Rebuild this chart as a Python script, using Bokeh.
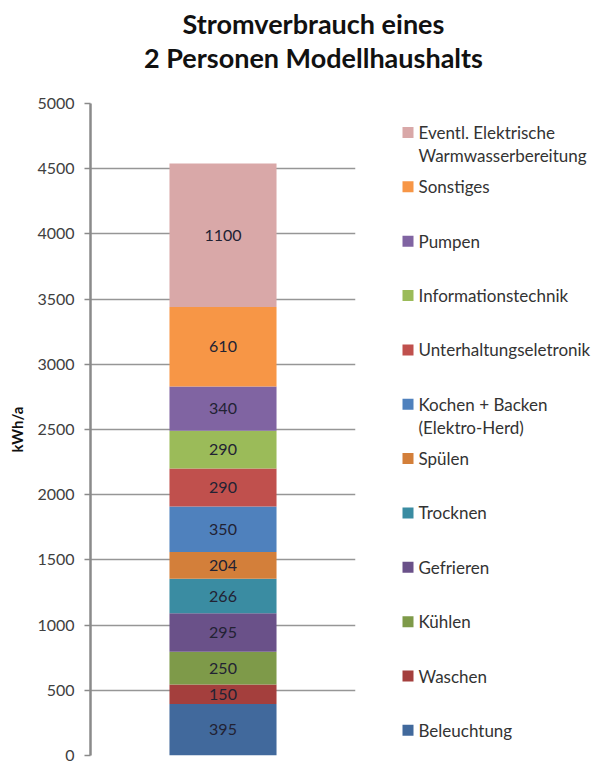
import numpy as np
from bokeh.plotting import figure
from bokeh.layouts import column, row
from bokeh.models import ColumnDataSource, Range1d, FixedTicker
from bokeh.core.properties import value
from bokeh.embed import file_html
from bokeh.resources import INLINE

# ---------------- data ----------------
title_lines = ["Stromverbrauch eines", "2 Personen Modellhaushalts"]
y_label = "kWh/a"
categories = [
    "Beleuchtung",
    "Waschen",
    "Kühlen",
    "Gefrieren",
    "Trocknen",
    "Spülen",
    "Kochen + Backen\n(Elektro-Herd)",
    "Unterhaltungseletronik",
    "Informationstechnik",
    "Pumpen",
    "Sonstiges",
    "Eventl. Elektrische\nWarmwasserbereitung",
]
values = [395, 150, 250, 295, 266, 204, 350, 290, 290, 340, 610, 1100]
colors = [
    "#41699C", "#A43F3D", "#7E9A49", "#6A5189", "#3A8CA2", "#D37F3A",
    "#4F81BD", "#C0504D", "#9BBB59", "#8064A2", "#F79646", "#D9A8A8",
]
y_ticks = [0, 500, 1000, 1500, 2000, 2500, 3000, 3500, 4000, 4500, 5000]

FONT = "Lato"
TXT = "#333333"

# ---------------- title ----------------
TW, TH = 597, 93
tf = figure(width=TW, height=TH, x_range=Range1d(0, TW), y_range=Range1d(TH, 0),
            output_backend="svg", toolbar_location=None,
            x_axis_location=None, y_axis_location=None,
            min_border=0, outline_line_color=None)
tf.grid.visible = False
tsrc = ColumnDataSource(dict(x=[313, 313], y=[23, 57], t=title_lines))
tf.text(x="x", y="y", text="t", source=tsrc, text_font=value(FONT),
        text_font_style="bold", text_font_size="27px", text_color="#111111",
        text_align="center", text_baseline="middle")

# ---------------- main chart ----------------
vals = np.array(values, dtype=float)
tops = np.cumsum(vals)
bottoms = tops - vals
mids = (tops + bottoms) / 2

src = ColumnDataSource(dict(
    x=[0.5] * len(values), bottom=bottoms, top=tops, mid=mids,
    color=colors, lab=[str(v) for v in values], cat=categories,
))

MW, MH = 368, 670
BT, BB = 10, 8
p = figure(width=MW, height=MH, x_range=Range1d(0, 1), y_range=Range1d(0, 5000),
           output_backend="svg", toolbar_location=None,
           min_border_left=90, min_border_right=13, min_border_top=BT,
           min_border_bottom=BB, outline_line_color=None)
p.vbar(x="x", width=0.404, bottom="bottom", top="top", color="color",
       line_color=None, source=src)
p.text(x="x", y="mid", text="lab", source=src, text_font=value(FONT),
       text_font_size="16px", text_color="#222233", text_align="center",
       text_baseline="middle")

p.xaxis.visible = False
p.xgrid.visible = False
p.ygrid.grid_line_color = "#969696"
p.ygrid.grid_line_width = 1.5
p.yaxis.ticker = FixedTicker(ticks=y_ticks)
p.yaxis.axis_line_color = "#8a8a8a"
p.yaxis.axis_line_width = 2.5
p.yaxis.major_tick_line_color = "#8a8a8a"
p.yaxis.major_tick_line_width = 1.5
p.yaxis.major_tick_in = 0
p.yaxis.major_tick_out = 6
p.yaxis.minor_tick_line_color = None
p.yaxis.major_label_standoff = 10
p.yaxis.major_label_text_font = FONT
p.yaxis.major_label_text_font_size = "16px"
p.yaxis.major_label_text_color = "#404040"
p.yaxis.axis_label = y_label
p.yaxis.axis_label_text_font = FONT
p.yaxis.axis_label_text_font_style = "bold"
p.yaxis.axis_label_text_font_size = "15px"
p.yaxis.axis_label_text_color = "#111111"
p.yaxis.axis_label_standoff = 8

# ---------------- legend ----------------
# the row aligns this figure's frame with the chart frame (BT..MH-BB),
# so the y range maps one unit to one pixel from the figure top
LW, LH = 229, MH
lf = figure(width=LW, height=LH, x_range=Range1d(0, LW), y_range=Range1d(LH - BB, BT),
            output_backend="svg", toolbar_location=None,
            x_axis_location=None, y_axis_location=None,
            min_border=0, min_border_top=BT, min_border_bottom=BB,
            outline_line_color=None)
lf.grid.visible = False

order = list(range(len(categories)))[::-1]  # top to bottom
step = 54.35
ly = [39 + step * i for i in range(len(order))]
first = [categories[k].split("\n")[0] for k in order]
lsrc = ColumnDataSource(dict(
    x=[39.5] * len(order), y=ly, c=[colors[k] for k in order],
    tx=[50] * len(order), t1=first,
))
lf.rect(x="x", y="y", width=11, height=11, fill_color="c", line_color=None, source=lsrc)
lf.text(x="tx", y="y", text="t1", source=lsrc, text_font=value(FONT),
        text_font_size="17px", text_color=TXT, text_baseline="middle")

sec_y, sec_t = [], []
for i, k in enumerate(order):
    parts = categories[k].split("\n")
    if len(parts) > 1:
        sec_y.append(ly[i] + 23)
        sec_t.append(parts[1])
ssrc = ColumnDataSource(dict(x=[50] * len(sec_y), y=sec_y, t=sec_t))
lf.text(x="x", y="y", text="t", source=ssrc, text_font=value(FONT),
        text_font_size="17px", text_color=TXT, text_baseline="middle")

layout = column(tf, row(p, lf, spacing=0), spacing=0)
open("out.html", "w").write(file_html(layout, INLINE))
